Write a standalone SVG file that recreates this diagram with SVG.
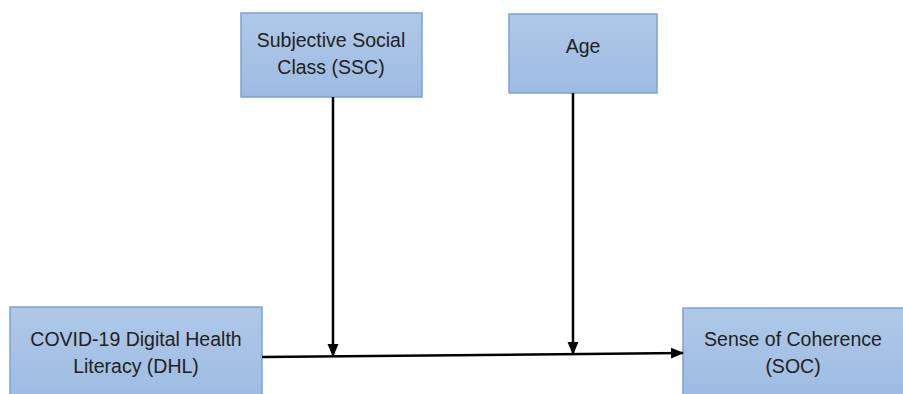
<svg xmlns="http://www.w3.org/2000/svg" width="903" height="394" viewBox="0 0 903 394">
<style>
.box{fill:url(#g);stroke:#7aa3d6;stroke-width:1.5}
.t{font-family:"Liberation Sans",Arial,sans-serif;font-size:19.5px;fill:#222;text-anchor:middle}
.c{stroke:#000;stroke-width:2.5;fill:none}
</style>
<defs>
<linearGradient id="g" x1="0" y1="0" x2="0" y2="1">
<stop offset="0" stop-color="#afc8e8"/>
<stop offset="1" stop-color="#9dbbe2"/>
</linearGradient>
<marker id="a" markerWidth="13" markerHeight="12" refX="12" refY="6" orient="auto" markerUnits="userSpaceOnUse">
<path d="M0,0.5 L13,6 L0,11.5 z" fill="#000"/>
</marker>
</defs>
<rect width="903" height="394" fill="#fff"/>
<g id="ssc">
<rect class="box" x="241" y="13" width="181" height="84"/>
<text class="t" x="331" y="47">Subjective Social</text>
<text class="t" x="331" y="74">Class (SSC)</text>
</g>
<g id="age">
<rect class="box" x="509" y="14" width="148" height="79"/>
<text class="t" x="583" y="53">Age</text>
</g>
<g id="dhl">
<rect class="box" x="10" y="307" width="252" height="95"/>
<text class="t" x="136" y="346">COVID-19 Digital Health</text>
<text class="t" x="136" y="373">Literacy (DHL)</text>
</g>
<g id="soc">
<rect class="box" x="683" y="308" width="230" height="95"/>
<text class="t" x="793" y="346">Sense of Coherence</text>
<text class="t" x="793" y="373">(SOC)</text>
</g>
<g id="connectors">
<line class="c" x1="262" y1="357" x2="683" y2="353" marker-end="url(#a)"/>
<line class="c" x1="333" y1="97" x2="333" y2="356" marker-end="url(#a)"/>
<line class="c" x1="573" y1="93" x2="573" y2="354" marker-end="url(#a)"/>
</g>
</svg>
